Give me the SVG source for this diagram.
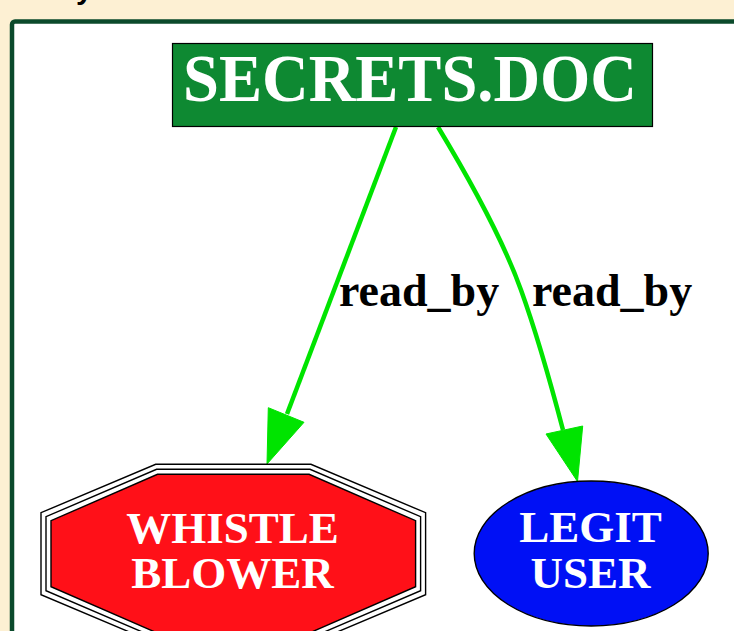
<svg xmlns="http://www.w3.org/2000/svg" width="734" height="631" viewBox="0 0 734 631">
  <style>
    .lbl { font-family: "Liberation Serif", "Times New Roman", serif; font-weight: bold; }
    .node-text { fill: #ffffff; text-anchor: middle; }
    .edge { fill: none; stroke: #00e400; stroke-width: 4.5; }
    .head { fill: #00e400; stroke: #00e400; stroke-width: 1; }
    .edge-text { fill: #000000; font-size: 46px; }
    .ring { fill: none; stroke: #000000; stroke-width: 1.4; }
  </style>

  <!-- page background and cluster frame -->
  <rect x="0" y="0" width="734" height="631" fill="#fdf0d3"/>
  <text x="76" y="-1" font-family="Liberation Sans, Arial, sans-serif" font-weight="bold" font-size="30" fill="#000000">y</text>
  <rect id="cluster" x="12" y="21.5" width="760" height="660" rx="3" fill="#ffffff" stroke="#0b4a2b" stroke-width="4.5"/>

  <!-- connectors -->
  <g id="connectors">
    <path class="edge" d="M396,127 L287,414"/>
    <polygon class="head" points="267,464 268.3,407.7 304,422.3"/>
    <text class="lbl edge-text" x="339" y="306">read_by</text>

    <path class="edge" d="M438,127 C470,180 503,240 521,290 C538,337 553,392 563,430"/>
    <polygon class="head" points="577.5,481.5 546,434 582.7,426"/>
    <text class="lbl edge-text" x="532" y="306">read_by</text>
  </g>

  <!-- document node -->
  <g id="secrets_doc">
    <rect x="172.5" y="43.5" width="480" height="83" fill="#0e8932" stroke="#000000" stroke-width="1.2"/>
    <text class="lbl node-text" x="410" y="101" font-size="68" textLength="454" lengthAdjust="spacingAndGlyphs">SECRETS.DOC</text>
  </g>

  <!-- triple octagon node -->
  <g id="whistle_blower">
    <polygon class="ring" points="155.7,464.3 310.9,464.3 425.6,512.7 425.6,594.7 310.9,643.1 155.7,643.1 41,594.7 41,512.7"/>
    <polygon class="ring" points="156.6,469.3 310,469.3 420.6,516.7 420.6,590.7 310,638.1 156.6,638.1 46,590.7 46,516.7"/>
    <polygon points="157.5,474.3 309.1,474.3 415.6,520.7 415.6,586.7 309.1,633.1 157.5,633.1 51,586.7 51,520.7" fill="#ff1018" stroke="#000000" stroke-width="1.4"/>
    <text class="lbl node-text" x="232.5" y="542.7" font-size="45">WHISTLE</text>
    <text class="lbl node-text" x="232.5" y="588.3" font-size="45">BLOWER</text>
  </g>

  <!-- ellipse node -->
  <g id="legit_user">
    <ellipse cx="591.2" cy="553.5" rx="117" ry="72.5" fill="#0010f5" stroke="#000000" stroke-width="1.4"/>
    <text class="lbl node-text" x="590.5" y="541.7" font-size="45">LEGIT</text>
    <text class="lbl node-text" x="590.5" y="588.3" font-size="45">USER</text>
  </g>
</svg>
